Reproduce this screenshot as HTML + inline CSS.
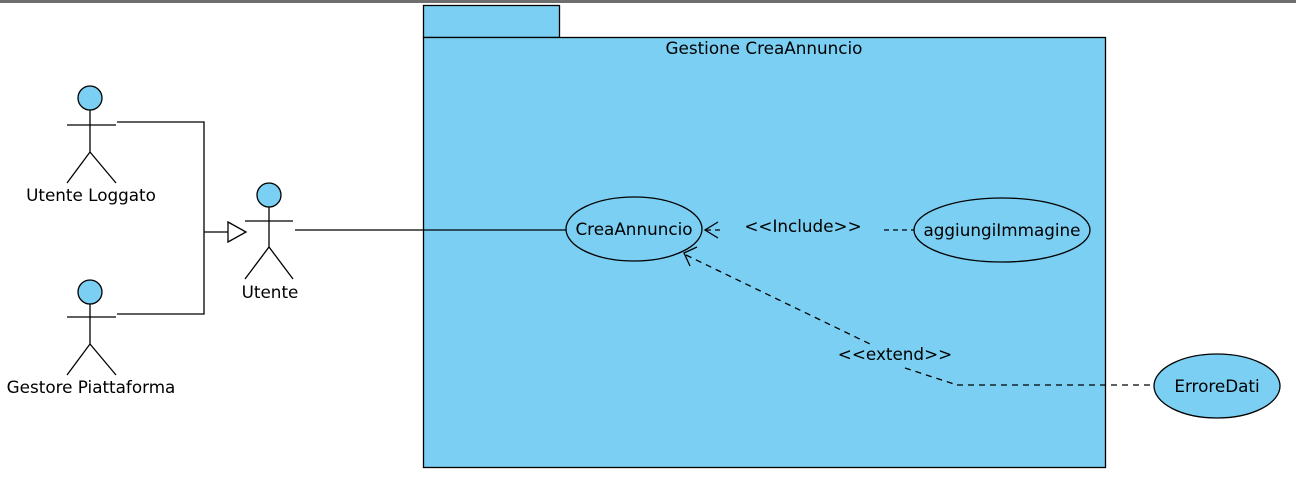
<!DOCTYPE html>
<html><head><meta charset="utf-8"><style>
body{margin:0;width:1296px;height:488px;background:#fff;overflow:hidden}
svg{display:block}
text{font-family:"DejaVu Sans","Liberation Sans",sans-serif;font-size:16.8px;fill:#000}
</style></head><body>
<svg width="1296" height="488" viewBox="0 0 1296 488">
<rect x="0" y="0" width="1296" height="3" fill="#6e6e6e"/>
<g stroke="#000" stroke-width="1.3" fill="#7acff3">
<rect x="423.5" y="5.5" width="136" height="32"/>
<rect x="423.5" y="37.5" width="682" height="430"/>
</g>
<text x="764" y="54" text-anchor="middle">Gestione CreaAnnuncio</text>

<g stroke="#000" stroke-width="1.3" fill="none">
<g>
<circle cx="90" cy="98" r="12" fill="#7acff3"/>
<line x1="67" y1="125" x2="116" y2="125"/><line x1="90" y1="110" x2="90" y2="152"/>
<polyline points="67,183 90,152 116,183"/></g>
<g>
<circle cx="90" cy="292" r="12" fill="#7acff3"/>
<line x1="67" y1="317" x2="116" y2="317"/><line x1="90" y1="304" x2="90" y2="344"/>
<polyline points="67,375 90,344 116,375"/></g>
<g>
<circle cx="269" cy="195" r="12" fill="#7acff3"/>
<line x1="245" y1="221" x2="293" y2="221"/><line x1="269" y1="207" x2="269" y2="247"/>
<polyline points="245,279 269,247 293,279"/></g>
<g>
<polyline points="117,122 204,122 204,314 117,314"/>
<line x1="204" y1="232" x2="228" y2="232"/>
<polygon points="228,222 246,232 228,242" fill="#fff"/></g>
<line x1="295" y1="230" x2="566" y2="230"/>
<g stroke-dasharray="5,4">
<line x1="706" y1="230" x2="722" y2="230"/><line x1="884" y1="230" x2="914" y2="230"/></g>
<polyline points="718,222 705,230 718,238"/>
<g stroke-dasharray="6,5">
<line x1="686" y1="255" x2="870" y2="344"/><line x1="905" y1="368" x2="957" y2="385"/>
<line x1="957" y1="385" x2="1153" y2="385"/></g>
<polyline points="697,247 684,253 690,266"/>
<ellipse cx="634" cy="229" rx="68" ry="32" fill="#7acff3"/>
<ellipse cx="1002" cy="230" rx="88" ry="32" fill="#7acff3"/>
<ellipse cx="1217" cy="386" rx="63" ry="32" fill="#7acff3"/>
</g>
<text x="91" y="201" text-anchor="middle">Utente Loggato</text>
<text x="91" y="393" text-anchor="middle">Gestore Piattaforma</text>
<text x="270" y="298" text-anchor="middle">Utente</text>
<text x="634" y="235" text-anchor="middle">CreaAnnuncio</text>
<text x="1002" y="236" text-anchor="middle">aggiungiImmagine</text>
<text x="1217" y="392" text-anchor="middle">ErroreDati</text>
<text x="803" y="232" text-anchor="middle">&lt;&lt;Include&gt;&gt;</text>
<text x="895" y="360" text-anchor="middle">&lt;&lt;extend&gt;&gt;</text>
</svg>
</body></html>
